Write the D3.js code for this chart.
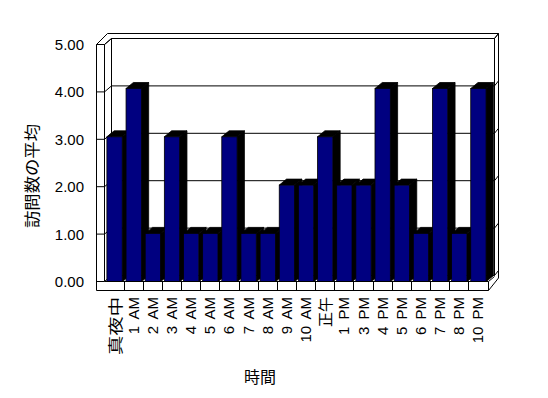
<!DOCTYPE html>
<html><head><meta charset="utf-8">
<script src="https://cdn.jsdelivr.net/npm/d3@7"></script>
<style>
html,body{margin:0;padding:0;background:#fff;}
svg{display:block;}
text{font-family:"Liberation Sans",Arial,sans-serif;fill:#000;}
.cjk{font-family:"Noto Sans CJK JP","Liberation Sans",sans-serif;}
</style></head>
<body>
<script>
const categories = ["真夜中","1 AM","2 AM","3 AM","4 AM","5 AM","6 AM","7 AM","8 AM","9 AM","10 AM","正午","1 PM","3 PM","4 PM","5 PM","6 PM","7 PM","8 PM","10 PM"];
const visits = [3,4,1,3,1,1,3,1,1,2,2,3,2,2,4,2,1,4,1,4];
const yTicks = [0,1,2,3,4,5];
const yTickLabels = ["0.00","1.00","2.00","3.00","4.00","5.00"];
const yTitle = "訪問数の平均";
const xTitle = "時間";

const W = 548, H = 398;
const svg = d3.select("body").append("svg").attr("width", W).attr("height", H);

// geometry
const wallL = 96.5, wallR = 104.5, backL = 111.5, backR = 494.5, outerR = 498.5;
const floorTop = 281.5, floorBot = 290.5, outerTop = 33.5;
const x = d3.scaleBand().domain(categories).range([104.5, 487.5]).paddingInner(0).paddingOuter(0);
const yA = d3.scaleLinear().domain([0,5]).range([281.5, 44.5]);
const yB = d3.scaleLinear().domain([0,5]).range([281.7, 40.2]);
const backDy = -6;
const dX = 7.3, dY = -6;

const line = (pts) => "M" + pts.map(p => p.join(",")).join("L");
const g = svg.append("g").attr("fill", "none").attr("stroke", "#000").attr("stroke-width", 1);

// outer frame (back wall top / right edge)
g.append("path").attr("d", line([[wallL, yA(5)], [107.5, outerTop], [outerR, outerTop], [outerR, 278], [488.5, floorBot]]));
// back wall inner top and left
g.append("path").attr("d", line([[wallR, yA(5)], [backL, yA(5) + backDy], [backR, yA(5) + backDy], [backR, yA(0) + backDy]]));
g.append("path").attr("d", line([[backL, yA(5) + backDy], [backL, yA(0) + backDy]]));
g.append("path").attr("d", line([[backR, yA(5) + backDy], [outerR, outerTop]]));

// gridlines with tick diagonals
yTicks.forEach(v => {
  const gy = yA(v) + backDy;
  g.append("path").attr("d", line([[backL, gy], [backR, gy]]));
  g.append("path").attr("d", line([[wallR, yA(v)], [backL, gy]]));
  g.append("path").attr("d", line([[backR, gy], [outerR, gy - 5]]));
});

// bars
const bars = svg.append("g");
categories.forEach((c, i) => {
  const v = visits[i];
  const bw = x.bandwidth();
  const xl = x(c) + bw * 0.125, xr = xl + bw * 0.8;
  const yt = yB(v), yb = yB(0);
  bars.append("path").attr("d", line([[xr, yt], [xr + dX, yt + dY], [xr + dX, yb + dY], [xr, yb]]) + "Z")
    .attr("fill", "#000").attr("stroke", "#000").attr("stroke-width", 0.8);
  bars.append("path").attr("d", line([[xl, yt], [xl + dX, yt + dY], [xr + dX, yt + dY], [xr, yt]]) + "Z")
    .attr("fill", "#000").attr("stroke", "#000").attr("stroke-width", 0.8);
  bars.append("rect").attr("x", xl).attr("y", yt).attr("width", xr - xl).attr("height", yb - yt)
    .attr("fill", "#000080").attr("stroke", "#000").attr("stroke-width", 0.8);
});

// left wall + floor front face (L shape)
svg.append("path")
  .attr("d", line([[wallL, yA(5)], [wallR, yA(5)], [wallR, floorTop], [488.5, floorTop], [488.5, floorBot], [wallL, floorBot]]) + "Z")
  .attr("fill", "#fff").attr("stroke", "#000").attr("stroke-width", 1);
// tick marks across left wall front
yTicks.forEach(v => {
  svg.append("line").attr("x1", wallL).attr("x2", wallR).attr("y1", yA(v)).attr("y2", yA(v)).attr("stroke", "#000");
});
// floor dividers
categories.slice(1).forEach(c => {
  svg.append("line").attr("x1", Math.round(x(c)) + 0.5).attr("x2", Math.round(x(c)) + 0.5).attr("y1", floorTop).attr("y2", floorBot).attr("stroke", "#000");
});
svg.append("line").attr("x1", 488.5).attr("y1", floorTop).attr("x2", 494.5).attr("y2", floorTop - 5).attr("stroke", "#000");

// y tick labels
svg.append("g").selectAll("text").data(yTicks).join("text")
  .attr("x", 84).attr("y", d => yA(d)).attr("text-anchor", "end").attr("dominant-baseline", "central")
  .style("font-size", "15px").text((d, i) => yTickLabels[i]);

// x labels
svg.append("g").selectAll("text").data(categories).join("text")
  .attr("class", d => /[^\x00-\x7f]/.test(d) ? "cjk" : null)
  .attr("transform", d => `translate(${x(d) + x.bandwidth() / 2},297) rotate(-90)`)
  .attr("text-anchor", "end").attr("dominant-baseline", "central")
  .style("font-size", "15px").style("word-spacing", "3px")
  .each(function(d) { if (d === "真夜中") d3.select(this).attr("textLength", 58).attr("lengthAdjust", "spacingAndGlyphs"); })
  .text(d => d);

// axis titles
svg.append("text").attr("class", "cjk")
  .attr("transform", "translate(31,176) rotate(-90)")
  .attr("text-anchor", "middle").attr("dominant-baseline", "central")
  .style("font-size", "16px").attr("textLength", 104).attr("lengthAdjust", "spacingAndGlyphs")
  .text(yTitle);
svg.append("text").attr("class", "cjk")
  .attr("x", 260).attr("y", 376).attr("text-anchor", "middle").attr("dominant-baseline", "central")
  .style("font-size", "16px").text(xTitle);
</script>
</body></html>
